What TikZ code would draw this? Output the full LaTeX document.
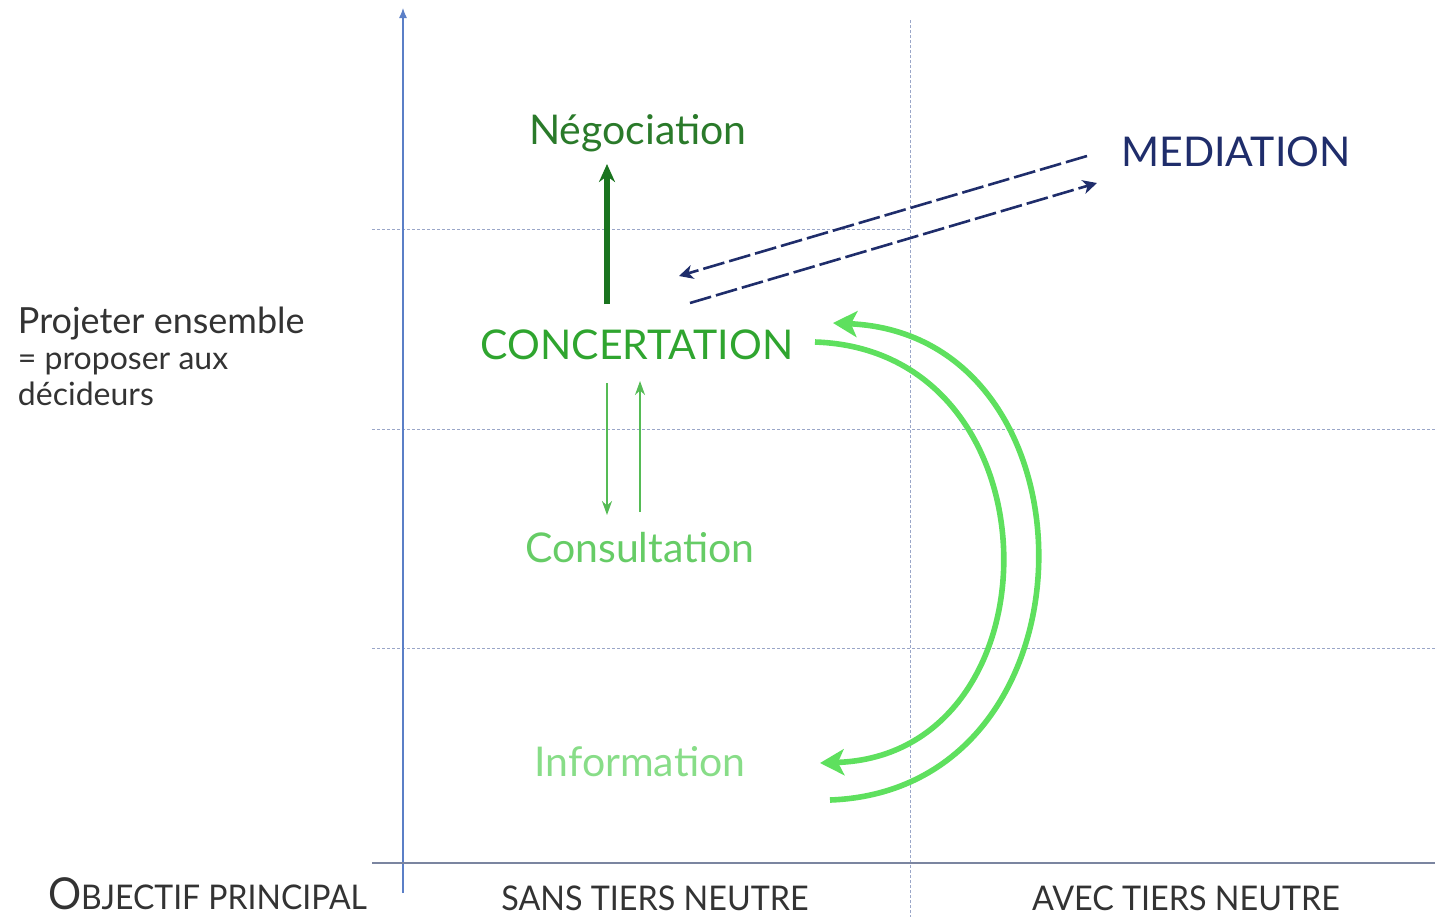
\documentclass[tikz,border=0pt]{standalone}
\usepackage{fontspec}
\setmainfont{Lato}
\usepackage{graphicx}
\usetikzlibrary{arrows.meta}
\definecolor{axisblue}{HTML}{5B7FC7}
\definecolor{gridgray}{HTML}{9AA6C8}
\definecolor{neggreen}{HTML}{2A7A2A}
\definecolor{negarrow}{HTML}{1A741F}
\definecolor{concgreen}{HTML}{2FA52F}
\definecolor{consgreen}{HTML}{66CC66}
\definecolor{infogreen}{HTML}{88DD88}
\definecolor{thingreen}{HTML}{55BB55}
\definecolor{arcgreen}{HTML}{5EE05E}
\definecolor{navy}{HTML}{1F2D6B}
\definecolor{txtgray}{HTML}{333333}
\tikzset{
  grid/.style={gridgray, line width=0.5pt, dash pattern=on 1.5pt off 1pt},
  axisline/.style={axisblue, line width=0.6pt},
  hline/.style={gridgray!80!black, line width=0.6pt},
  big/.style={font=\fontsize{20.5pt}{24pt}\selectfont},
  bottom/.style={font=\fontsize{17pt}{20pt}\selectfont, txtgray, anchor=base},
  lefttxt/.style={txtgray, anchor=base west},
  negarr/.style={negarrow, line width=3pt, -{Stealth[length=9pt,width=8pt]}},
  navyarr/.style={navy, line width=1.3pt, dash pattern=on 11pt off 2.5pt, -{Stealth[length=7pt,width=7pt,inset=2pt]}},
  thinarr/.style={thingreen, line width=1pt, -{Stealth[length=7pt,width=5pt]}},
  arcarr/.style={arcgreen, line width=2.8pt, -{Stealth[length=12pt,width=13pt,inset=3pt]}}
}
\begin{document}
\begin{tikzpicture}[x=0.5pt,y=-0.5pt, every node/.style={inner sep=0pt, outer sep=0pt}]
\useasboundingbox (0,0) rectangle (1435,917);
% grid
\draw[grid] (372,229) -- (910,229);
\draw[grid] (372,429) -- (1435,429);
\draw[grid] (372,648) -- (1435,648);
\draw[grid] (910,20) -- (910,917);
% axes
\coordinate (yb) at (403,893);
\coordinate (yt) at (403,8);
\draw[axisline, -{Latex[length=5pt,width=4pt]}] (yb) -- (yt);
\coordinate (xa) at (372,863);
\coordinate (xb) at (1435,863);
\draw[hline] (xa) -- (xb);
% labels
\node[big, neggreen] (neg) at (638,133) {Négociation};
\node[big, navy] (med) at (1236,152) {MEDIATION};
\node[big, concgreen] (conc) at (637,345) {CONCERTATION};
\node[big, consgreen] (cons) at (640,548) {Consultation};
\node[big, infogreen] (info) at (640,762) {Information};
\node[lefttxt, font=\fontsize{18pt}{20pt}\selectfont] (proj1) at (18,333) {Projeter ensemble};
\node[lefttxt, font=\fontsize{16pt}{19pt}\selectfont] (proj2) at (18,369) {= proposer aux};
\node[lefttxt, font=\fontsize{16pt}{19pt}\selectfont] (proj3) at (18,405) {décideurs};
\node[txtgray, anchor=base west] (obj) at (48,909)
  {\scalebox{0.94}[1]{\fontsize{22pt}{24pt}\selectfont O\fontsize{17pt}{20pt}\selectfont BJECTIF PRINCIPAL}};
\node[bottom] (sans) at (655,910) {\scalebox{0.95}[1]{SANS TIERS NEUTRE}};
\node[bottom] (avec) at (1186,910) {\scalebox{0.95}[1]{AVEC TIERS NEUTRE}};
% negotiation arrow
\coordinate (n1) at (607,304);
\coordinate (n2) at (607,164);
\draw[negarr] (n1) -- (n2);
% mediation arrows
\coordinate (m1) at (1087,156);
\coordinate (m2) at (679,276);
\coordinate (m3) at (690,303);
\coordinate (m4) at (1097,183);
\draw[navyarr] (m1) -- (m2);
\draw[navyarr] (m3) -- (m4);
% consultation arrows
\coordinate (c1) at (607,383);
\coordinate (c2) at (607,515);
\coordinate (c3) at (640,512);
\coordinate (c4) at (640,381);
\draw[thinarr] (c1) -- (c2);
\draw[thinarr] (c3) -- (c4);
% big arcs
\coordinate (a1) at (830,800);
\coordinate (a2) at (833,323);
\draw[arcarr] (a1) .. controls (1105,790) and (1105,335) .. (a2);
\coordinate (b1) at (815,342);
\coordinate (b2) at (820,763);
\draw[arcarr] (b1) .. controls (1063,350) and (1063,755) .. (b2);
\end{tikzpicture}
\end{document}
